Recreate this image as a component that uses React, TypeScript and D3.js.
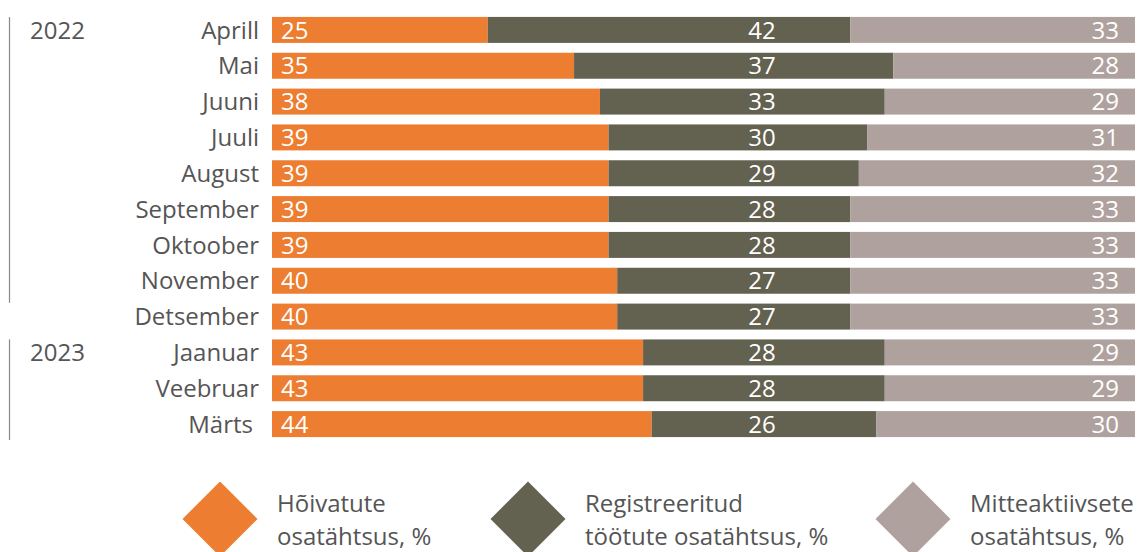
import React from "react";
import * as d3 from "d3";

const months = ["Aprill", "Mai", "Juuni", "Juuli", "August", "September", "Oktoober", "November", "Detsember", "Jaanuar", "Veebruar", "Märts"];
const employed = [25, 35, 38, 39, 39, 39, 39, 40, 40, 43, 43, 44];
const unemployed = [42, 37, 33, 30, 29, 28, 28, 27, 27, 28, 28, 26];
const inactive = [33, 28, 29, 31, 32, 33, 33, 33, 33, 29, 29, 30];
const seriesNames = [["Hõivatute", "osatähtsus, %"], ["Registreeritud", "töötute osatähtsus, %"], ["Mitteaktiivsete", "osatähtsus, %"]];
const years = [{ label: "2022", first: 0, last: 7 }, { label: "2023", first: 9, last: 11 }];

const colors = ["#ED7D31", "#636150", "#AFA29E"];
const FONT = "'Open Sans', sans-serif";
const TXT = "#555555";

export default function App() {
  const W = 1137, H = 552;
  const x = d3.scaleLinear().domain([0, 100]).range([272, 1135]);
  const y = d3.scaleBand().domain(months).range([12, 442]).paddingInner(0.275).paddingOuter(0.1375);
  const data = months.map((m, i) => ({ m, v: [employed[i], unemployed[i], inactive[i]] }));
  const stack = d3.stack<any>().keys(["0", "1", "2"]).value((d, k) => d.v[+k]);
  const series = stack(data);
  const bh = y.bandwidth();
  const legendX = [220, 528, 913];
  const fs = 24;
  return (
    <svg width={W} height={H} style={{ position: "absolute", left: 0, top: 0 }} fontFamily={FONT}>
      {series.map((s, si) => (
        <g key={si} fill={colors[si]}>
          {s.map((d, i) => (
            <rect key={i} x={x(d[0])} y={y(months[i])} width={x(d[1]) - x(d[0])} height={bh} />
          ))}
        </g>
      ))}
      {data.map((d, i) => {
        const cy = (y(d.m) as number) + bh / 2;
        return (
          <g key={i} fontSize={fs} fill="#ffffff">
            <text x={281} y={cy} dy="0.36em">{d.v[0]}</text>
            <text x={762} y={cy} dy="0.36em" textAnchor="middle">{d.v[1]}</text>
            <text x={1119} y={cy} dy="0.36em" textAnchor="end">{d.v[2]}</text>
            <text x={d.m === "Märts" ? 253 : 259} y={cy} dy="0.36em" textAnchor="end" fill={TXT}>{d.m}</text>
          </g>
        );
      })}
      {years.map((yr, i) => {
        const top = y(months[yr.first]) as number;
        const bot = (y(months[yr.last]) as number) + bh + (yr.last === 7 ? 9 : 3);
        return (
          <g key={i}>
            <line x1={9.5} x2={9.5} y1={top} y2={bot} stroke="#888" strokeWidth={1.2} />
            <text x={30} y={top + bh / 2} dy="0.36em" fontSize={fs} fill={TXT}>{yr.label}</text>
          </g>
        );
      })}
      {seriesNames.map((n, i) => {
        const cx = legendX[i];
        const cy = 519;
        const r = 37.5;
        return (
          <g key={i}>
            <path d={`M${cx},${cy - r}L${cx + r},${cy}L${cx},${cy + r}L${cx - r},${cy}Z`} fill={colors[i]} />
            <text x={cx + 57} y={512} fontSize={fs} fill={TXT}>{n[0]}</text>
            <text x={cx + 57} y={545} fontSize={fs} fill={TXT}>{n[1]}</text>
          </g>
        );
      })}
    </svg>
  );
}
